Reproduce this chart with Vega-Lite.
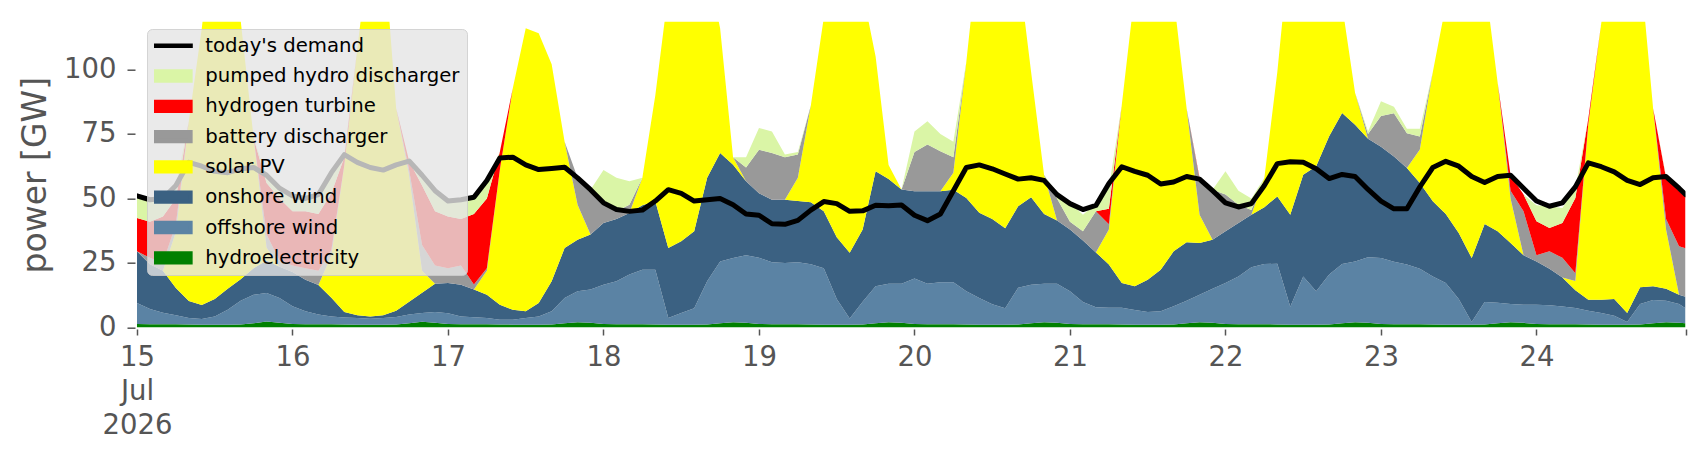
{
  "$schema": "https://vega.github.io/schema/vega-lite/v6.json",
  "width": 1548.5,
  "height": 305.8,
  "autosize": {"type": "none"},
  "padding": {"left": 137, "top": 21.7, "right": 20.5, "bottom": 132.5},
  "background": "white",
  "config": {"font": "DejaVu Sans", "view": {"stroke": null}},
  "data": {
    "values": [
      {"t":"2026-07-15T00:00","hy":1.4,"off":8.1,"on":20,"pv":0,"bat":0,"h2":12.9,"phs":8.4,"dem":51},
      {"t":"2026-07-15T02:00","hy":1.3,"off":5.9,"on":17.3,"pv":0,"bat":2.5,"h2":14,"phs":8.2,"dem":49.5},
      {"t":"2026-07-15T04:00","hy":1.3,"off":4.4,"on":16.3,"pv":0,"bat":3,"h2":18,"phs":7,"dem":50},
      {"t":"2026-07-15T06:00","hy":1.3,"off":3.4,"on":10.6,"pv":21.7,"bat":3,"h2":10,"phs":5,"dem":55},
      {"t":"2026-07-15T08:00","hy":1.2,"off":2.5,"on":6.6,"pv":69.7,"bat":0,"h2":0,"phs":0,"dem":64},
      {"t":"2026-07-15T10:00","hy":1.1,"off":2.2,"on":5.4,"pv":107.3,"bat":0,"h2":0,"phs":0,"dem":62.5},
      {"t":"2026-07-15T12:00","hy":1.1,"off":3.2,"on":6.7,"pv":149,"bat":0,"h2":0,"phs":0,"dem":60.5},
      {"t":"2026-07-15T14:00","hy":1.1,"off":5.8,"on":8.1,"pv":150,"bat":0,"h2":0,"phs":0,"dem":60},
      {"t":"2026-07-15T16:00","hy":1.2,"off":9.2,"on":8.3,"pv":100.3,"bat":0,"h2":0,"phs":0,"dem":61.5},
      {"t":"2026-07-15T18:00","hy":1.6,"off":11.1,"on":10.3,"pv":50.4,"bat":0,"h2":0,"phs":0,"dem":62},
      {"t":"2026-07-15T20:00","hy":2.3,"off":11.1,"on":12.6,"pv":5,"bat":5,"h2":20,"phs":3,"dem":59},
      {"t":"2026-07-15T22:00","hy":1.8,"off":9.6,"on":12.1,"pv":0,"bat":2.5,"h2":24,"phs":4,"dem":54},
      {"t":"2026-07-16T00:00","hy":1.4,"off":6.8,"on":13.3,"pv":0,"bat":2.5,"h2":21,"phs":6,"dem":51},
      {"t":"2026-07-16T02:00","hy":1.3,"off":5,"on":12.2,"pv":0,"bat":4.5,"h2":22,"phs":5,"dem":50},
      {"t":"2026-07-16T04:00","hy":1.3,"off":3.7,"on":11.5,"pv":0,"bat":5.5,"h2":22,"phs":7.5,"dem":51.5},
      {"t":"2026-07-16T06:00","hy":1.3,"off":3,"on":7.2,"pv":16.5,"bat":2,"h2":22,"phs":8,"dem":60},
      {"t":"2026-07-16T08:00","hy":1.2,"off":2.7,"on":2.1,"pv":57,"bat":0,"h2":3,"phs":1,"dem":67},
      {"t":"2026-07-16T10:00","hy":1.1,"off":2.6,"on":1,"pv":103.3,"bat":0,"h2":0,"phs":0,"dem":64},
      {"t":"2026-07-16T12:00","hy":1.1,"off":2.3,"on":0.9,"pv":145.7,"bat":0,"h2":0,"phs":0,"dem":62},
      {"t":"2026-07-16T14:00","hy":1.1,"off":2.6,"on":1,"pv":145.3,"bat":0,"h2":0,"phs":0,"dem":61},
      {"t":"2026-07-16T16:00","hy":1.2,"off":2.9,"on":2.4,"pv":78.5,"bat":0,"h2":0,"phs":0,"dem":63},
      {"t":"2026-07-16T18:00","hy":1.6,"off":3.4,"on":5,"pv":49,"bat":2,"h2":3.5,"phs":0,"dem":64.5},
      {"t":"2026-07-16T20:00","hy":2.2,"off":3.4,"on":7.9,"pv":8.5,"bat":10,"h2":23,"phs":4,"dem":59},
      {"t":"2026-07-16T22:00","hy":1.8,"off":4.2,"on":11,"pv":0,"bat":7,"h2":21,"phs":8,"dem":53},
      {"t":"2026-07-17T00:00","hy":1.4,"off":4.1,"on":11.7,"pv":0,"bat":5.8,"h2":20,"phs":6.5,"dem":49},
      {"t":"2026-07-17T02:00","hy":1.3,"off":3,"on":12.3,"pv":0,"bat":7.4,"h2":18,"phs":7,"dem":49.5},
      {"t":"2026-07-17T04:00","hy":1.3,"off":2.7,"on":10.7,"pv":0,"bat":2,"h2":27.3,"phs":6.5,"dem":50.5},
      {"t":"2026-07-17T06:00","hy":1.3,"off":2.4,"on":9,"pv":9.3,"bat":1,"h2":27,"phs":7,"dem":57},
      {"t":"2026-07-17T08:00","hy":1.2,"off":1.8,"on":5.8,"pv":52.2,"bat":0,"h2":7,"phs":0,"dem":65.7},
      {"t":"2026-07-17T10:00","hy":1.1,"off":1.9,"on":3.9,"pv":85.8,"bat":0,"h2":0,"phs":0,"dem":66},
      {"t":"2026-07-17T12:00","hy":1.1,"off":2.6,"on":2.6,"pv":109.7,"bat":0,"h2":0,"phs":0,"dem":63},
      {"t":"2026-07-17T14:00","hy":1.1,"off":3.2,"on":5.2,"pv":104.5,"bat":0,"h2":0,"phs":0,"dem":61.2},
      {"t":"2026-07-17T16:00","hy":1.2,"off":5.1,"on":11.6,"pv":84.1,"bat":0,"h2":0,"phs":0,"dem":61.6},
      {"t":"2026-07-17T18:00","hy":1.6,"off":9.8,"on":19.4,"pv":41.2,"bat":0,"h2":0,"phs":0,"dem":62.1},
      {"t":"2026-07-17T20:00","hy":2,"off":12,"on":20,"pv":13.6,"bat":10.4,"h2":0,"phs":0,"dem":58},
      {"t":"2026-07-17T22:00","hy":1.8,"off":12.9,"on":21.3,"pv":0,"bat":16.8,"h2":0,"phs":0.6,"dem":53.4},
      {"t":"2026-07-18T00:00","hy":1.4,"off":15.2,"on":23.9,"pv":0,"bat":7.1,"h2":0,"phs":13.4,"dem":48.3},
      {"t":"2026-07-18T02:00","hy":1.3,"off":16.6,"on":24.1,"pv":0,"bat":3,"h2":0,"phs":13,"dem":45.7},
      {"t":"2026-07-18T04:00","hy":1.3,"off":19.2,"on":23.9,"pv":0,"bat":3.2,"h2":0,"phs":9.1,"dem":45},
      {"t":"2026-07-18T06:00","hy":1.3,"off":21.1,"on":25,"pv":10.6,"bat":0,"h2":0,"phs":0,"dem":45.5},
      {"t":"2026-07-18T08:00","hy":1.2,"off":21.2,"on":26.5,"pv":41.1,"bat":0,"h2":0,"phs":0,"dem":49},
      {"t":"2026-07-18T10:00","hy":1.1,"off":2.6,"on":27.1,"pv":99.2,"bat":0,"h2":0,"phs":0,"dem":53.4},
      {"t":"2026-07-18T12:00","hy":1.1,"off":4.5,"on":27.8,"pv":126.6,"bat":0,"h2":0,"phs":0,"dem":52},
      {"t":"2026-07-18T14:00","hy":1.1,"off":6.4,"on":29.8,"pv":122.7,"bat":0,"h2":0,"phs":0,"dem":49},
      {"t":"2026-07-18T16:00","hy":1.2,"off":16.7,"on":40.1,"pv":82,"bat":0,"h2":0,"phs":0,"dem":49.5},
      {"t":"2026-07-18T18:00","hy":1.6,"off":24,"on":42,"pv":48.4,"bat":0,"h2":0,"phs":0,"dem":50},
      {"t":"2026-07-18T20:00","hy":2,"off":24.9,"on":36.2,"pv":2.9,"bat":0,"h2":0,"phs":0,"dem":47.6},
      {"t":"2026-07-18T22:00","hy":1.8,"off":26.2,"on":28.7,"pv":0,"bat":5.3,"h2":0,"phs":4,"dem":44},
      {"t":"2026-07-19T00:00","hy":1.4,"off":25.6,"on":25,"pv":0,"bat":16.9,"h2":0,"phs":8.4,"dem":43.5},
      {"t":"2026-07-19T02:00","hy":1.3,"off":24,"on":24.2,"pv":0,"bat":18.1,"h2":0,"phs":8.4,"dem":40.2},
      {"t":"2026-07-19T04:00","hy":1.3,"off":23.7,"on":24.5,"pv":0,"bat":16.5,"h2":0,"phs":1,"dem":40},
      {"t":"2026-07-19T06:00","hy":1.3,"off":24,"on":23.7,"pv":9,"bat":9,"h2":0,"phs":1,"dem":41.5},
      {"t":"2026-07-19T08:00","hy":1.2,"off":23.3,"on":24,"pv":37.5,"bat":0,"h2":0,"phs":0,"dem":45.5},
      {"t":"2026-07-19T10:00","hy":1.1,"off":21.9,"on":22,"pv":75,"bat":0,"h2":0,"phs":0,"dem":48.8},
      {"t":"2026-07-19T12:00","hy":1.1,"off":9.9,"on":24,"pv":125,"bat":0,"h2":0,"phs":0,"dem":48},
      {"t":"2026-07-19T14:00","hy":1.1,"off":2.4,"on":25.5,"pv":141,"bat":0,"h2":0,"phs":0,"dem":45},
      {"t":"2026-07-19T16:00","hy":1.2,"off":8.8,"on":28,"pv":92,"bat":0,"h2":0,"phs":0,"dem":45.2},
      {"t":"2026-07-19T18:00","hy":1.6,"off":14.4,"on":44.5,"pv":44.5,"bat":0,"h2":0,"phs":0,"dem":47.4},
      {"t":"2026-07-19T20:00","hy":2,"off":15,"on":40.5,"pv":5.5,"bat":0,"h2":0,"phs":0,"dem":47.2},
      {"t":"2026-07-19T22:00","hy":1.8,"off":15.2,"on":36.5,"pv":0,"bat":0,"h2":0,"phs":0,"dem":47.5},
      {"t":"2026-07-20T00:00","hy":1.4,"off":17.6,"on":33.8,"pv":0,"bat":15.2,"h2":0,"phs":8,"dem":43.5},
      {"t":"2026-07-20T02:00","hy":1.3,"off":15.7,"on":35.8,"pv":0,"bat":18.1,"h2":0,"phs":9,"dem":41.4},
      {"t":"2026-07-20T04:00","hy":1.3,"off":16.2,"on":35.3,"pv":0,"bat":15.5,"h2":0,"phs":6.7,"dem":44},
      {"t":"2026-07-20T06:00","hy":1.3,"off":16.2,"on":35.9,"pv":6.6,"bat":6,"h2":0,"phs":6,"dem":53},
      {"t":"2026-07-20T08:00","hy":1.2,"off":12.8,"on":36.2,"pv":52.8,"bat":0,"h2":0,"phs":0,"dem":62},
      {"t":"2026-07-20T10:00","hy":1.1,"off":10.3,"on":33.1,"pv":105.5,"bat":0,"h2":0,"phs":0,"dem":63},
      {"t":"2026-07-20T12:00","hy":1.1,"off":7.9,"on":33,"pv":123,"bat":0,"h2":0,"phs":0,"dem":61.5},
      {"t":"2026-07-20T14:00","hy":1.1,"off":6.4,"on":31,"pv":121.5,"bat":0,"h2":0,"phs":0,"dem":59.5},
      {"t":"2026-07-20T16:00","hy":1.2,"off":14.2,"on":31.6,"pv":93,"bat":0,"h2":0,"phs":0,"dem":57.5},
      {"t":"2026-07-20T18:00","hy":1.6,"off":15,"on":33.9,"pv":48.5,"bat":0,"h2":0,"phs":0,"dem":58},
      {"t":"2026-07-20T20:00","hy":2,"off":15,"on":27,"pv":15.2,"bat":0,"h2":0,"phs":0,"dem":57},
      {"t":"2026-07-20T22:00","hy":1.8,"off":15.2,"on":24.5,"pv":0,"bat":8.5,"h2":0,"phs":2,"dem":51.5},
      {"t":"2026-07-21T00:00","hy":1.4,"off":12.6,"on":24,"pv":0,"bat":3,"h2":0,"phs":7.3,"dem":48},
      {"t":"2026-07-21T02:00","hy":1.3,"off":8.6,"on":23.8,"pv":0,"bat":3.6,"h2":0,"phs":6.4,"dem":45.7},
      {"t":"2026-07-21T04:00","hy":1.3,"off":6.5,"on":21.3,"pv":0,"bat":15.9,"h2":0,"phs":3,"dem":47.3},
      {"t":"2026-07-21T06:00","hy":1.3,"off":6.4,"on":16.7,"pv":13.6,"bat":2,"h2":6,"phs":8,"dem":55.8},
      {"t":"2026-07-21T08:00","hy":1.2,"off":6.5,"on":9.5,"pv":69.2,"bat":0,"h2":0,"phs":0,"dem":62.3},
      {"t":"2026-07-21T10:00","hy":1.1,"off":5.7,"on":9.2,"pv":114,"bat":0,"h2":0,"phs":0,"dem":60.5},
      {"t":"2026-07-21T12:00","hy":1.1,"off":4.9,"on":12.5,"pv":146.5,"bat":0,"h2":0,"phs":0,"dem":59},
      {"t":"2026-07-21T14:00","hy":1.1,"off":5.2,"on":16.1,"pv":142.6,"bat":0,"h2":0,"phs":0,"dem":55.6},
      {"t":"2026-07-21T16:00","hy":1.2,"off":7,"on":21.3,"pv":98.5,"bat":0,"h2":0,"phs":0,"dem":56.4},
      {"t":"2026-07-21T18:00","hy":1.6,"off":8.8,"on":22.6,"pv":52,"bat":0,"h2":0,"phs":0,"dem":58.5},
      {"t":"2026-07-21T20:00","hy":2,"off":10.7,"on":20,"pv":11,"bat":13.8,"h2":0.5,"phs":0,"dem":57.5},
      {"t":"2026-07-21T22:00","hy":1.8,"off":13.2,"on":19,"pv":0,"bat":19.4,"h2":0,"phs":0,"dem":53},
      {"t":"2026-07-22T00:00","hy":1.4,"off":15.8,"on":20.1,"pv":0,"bat":14.2,"h2":0,"phs":9,"dem":48.3},
      {"t":"2026-07-22T02:00","hy":1.3,"off":18.5,"on":20.7,"pv":0,"bat":7.1,"h2":0,"phs":5.4,"dem":46.7},
      {"t":"2026-07-22T04:00","hy":1.3,"off":22,"on":20.4,"pv":0,"bat":1.8,"h2":0,"phs":4.5,"dem":48},
      {"t":"2026-07-22T06:00","hy":1.3,"off":23.3,"on":22,"pv":11.4,"bat":0,"h2":0,"phs":0,"dem":55},
      {"t":"2026-07-22T08:00","hy":1.2,"off":23.5,"on":26.1,"pv":48.2,"bat":0,"h2":0,"phs":0,"dem":63.5},
      {"t":"2026-07-22T10:00","hy":1.1,"off":6.9,"on":35.7,"pv":106.3,"bat":0,"h2":0,"phs":0,"dem":64.2},
      {"t":"2026-07-22T12:00","hy":1.1,"off":18.7,"on":39.4,"pv":105.8,"bat":0,"h2":0,"phs":0,"dem":64},
      {"t":"2026-07-22T14:00","hy":1.1,"off":12.9,"on":48.5,"pv":102.5,"bat":0,"h2":0,"phs":0,"dem":61.5},
      {"t":"2026-07-22T16:00","hy":1.2,"off":19.3,"on":53.6,"pv":75.9,"bat":0,"h2":0,"phs":0,"dem":57.7},
      {"t":"2026-07-22T18:00","hy":1.6,"off":23,"on":58.5,"pv":41.9,"bat":0,"h2":0,"phs":0,"dem":59.3},
      {"t":"2026-07-22T20:00","hy":2,"off":23.6,"on":53,"pv":12.4,"bat":0,"h2":0,"phs":0,"dem":58.5},
      {"t":"2026-07-22T22:00","hy":1.8,"off":25.4,"on":45.9,"pv":0,"bat":1.9,"h2":0,"phs":1,"dem":53.5},
      {"t":"2026-07-23T00:00","hy":1.4,"off":25.5,"on":43.1,"pv":0,"bat":12,"h2":0,"phs":5.7,"dem":49},
      {"t":"2026-07-23T02:00","hy":1.3,"off":24.2,"on":40.8,"pv":0,"bat":16.7,"h2":0,"phs":2.5,"dem":46},
      {"t":"2026-07-23T04:00","hy":1.3,"off":23.1,"on":37.4,"pv":0,"bat":13.5,"h2":0,"phs":1.7,"dem":46},
      {"t":"2026-07-23T06:00","hy":1.3,"off":21.5,"on":33.2,"pv":13,"bat":5,"h2":0,"phs":3,"dem":54.5},
      {"t":"2026-07-23T08:00","hy":1.2,"off":18.6,"on":29.1,"pv":50.1,"bat":0,"h2":0,"phs":0,"dem":62},
      {"t":"2026-07-23T10:00","hy":1.1,"off":16.1,"on":26.8,"pv":81,"bat":0,"h2":0,"phs":0,"dem":64.4},
      {"t":"2026-07-23T12:00","hy":1.1,"off":9.9,"on":25.6,"pv":128.4,"bat":0,"h2":0,"phs":0,"dem":62.5},
      {"t":"2026-07-23T14:00","hy":1.1,"off":1,"on":24.8,"pv":143.1,"bat":0,"h2":0,"phs":0,"dem":58.5},
      {"t":"2026-07-23T16:00","hy":1.2,"off":8.7,"on":30.2,"pv":94.9,"bat":0,"h2":0,"phs":0,"dem":56.2},
      {"t":"2026-07-23T18:00","hy":1.6,"off":8,"on":27.7,"pv":57.7,"bat":0,"h2":0,"phs":0,"dem":58.5},
      {"t":"2026-07-23T20:00","hy":2,"off":7.1,"on":23.6,"pv":17.3,"bat":3,"h2":6,"phs":0,"dem":59},
      {"t":"2026-07-23T22:00","hy":1.8,"off":7,"on":19.2,"pv":0,"bat":17,"h2":6.5,"phs":0,"dem":54},
      {"t":"2026-07-24T00:00","hy":1.4,"off":7.4,"on":16.8,"pv":0,"bat":2.4,"h2":13.2,"phs":6.2,"dem":49},
      {"t":"2026-07-24T02:00","hy":1.3,"off":7.3,"on":14.2,"pv":0,"bat":6.7,"h2":9.1,"phs":8.4,"dem":47},
      {"t":"2026-07-24T04:00","hy":1.3,"off":6.8,"on":11.3,"pv":0,"bat":7.6,"h2":13.5,"phs":5.8,"dem":48.3},
      {"t":"2026-07-24T06:00","hy":1.3,"off":6.3,"on":6.8,"pv":3.6,"bat":3,"h2":29.2,"phs":3.8,"dem":54.5},
      {"t":"2026-07-24T08:00","hy":1.2,"off":5.3,"on":4.3,"pv":68.2,"bat":0,"h2":2,"phs":0,"dem":63.8},
      {"t":"2026-07-24T10:00","hy":1.1,"off":4.5,"on":5.2,"pv":107.2,"bat":0,"h2":0,"phs":0,"dem":62.3},
      {"t":"2026-07-24T12:00","hy":1.1,"off":3.5,"on":6.4,"pv":139,"bat":0,"h2":0,"phs":0,"dem":60.3},
      {"t":"2026-07-24T14:00","hy":1.1,"off":1,"on":3.5,"pv":149.4,"bat":0,"h2":0,"phs":0,"dem":57},
      {"t":"2026-07-24T16:00","hy":1.2,"off":7.9,"on":6.5,"pv":124.4,"bat":0,"h2":0,"phs":0,"dem":55.4},
      {"t":"2026-07-24T18:00","hy":1.6,"off":9.1,"on":5.3,"pv":69,"bat":0,"h2":0,"phs":0,"dem":58},
      {"t":"2026-07-24T20:00","hy":2,"off":8.4,"on":4.6,"pv":23,"bat":4,"h2":16,"phs":0.5,"dem":58.5},
      {"t":"2026-07-24T22:00","hy":1.8,"off":7.3,"on":3.6,"pv":0,"bat":18.8,"h2":21.3,"phs":1.2,"dem":54},
      {"t":"2026-07-24T23:00","hy":1.6,"off":5.9,"on":4.4,"pv":0,"bat":18.8,"h2":20,"phs":0.8,"dem":51.5}
    ]
  },
  "encoding": {
    "x": {
      "field": "t",
      "type": "temporal",
      "scale": {
        "domain": [
          {"year": 2026, "month": 7, "date": 15},
          {"year": 2026, "month": 7, "date": 24, "hours": 23}
        ],
        "nice": false
      },
      "axis": {
        "title": null,
        "values": [
          {"year": 2026, "month": 7, "date": 15},
          {"year": 2026, "month": 7, "date": 16},
          {"year": 2026, "month": 7, "date": 17},
          {"year": 2026, "month": 7, "date": 18},
          {"year": 2026, "month": 7, "date": 19},
          {"year": 2026, "month": 7, "date": 20},
          {"year": 2026, "month": 7, "date": 21},
          {"year": 2026, "month": 7, "date": 22},
          {"year": 2026, "month": 7, "date": 23},
          {"year": 2026, "month": 7, "date": 24},
          {"year": 2026, "month": 7, "date": 24, "hours": 23}
        ],
        "labelExpr": "hours(datum.value) == 23 ? '' : (date(datum.value) == 15 ? ['15', 'Jul', '2026'] : timeFormat(datum.value, '%d'))",
        "labelFontSize": 27.5,
        "labelColor": "#555555",
        "labelLineHeight": 34,
        "labelPadding": 8.5,
        "labelAngle": 0,
        "labelAlign": "center",
        "labelFlush": false,
        "labelOverlap": false,
        "labelBound": false,
        "tickColor": "#555555",
        "tickSize": 6,
        "tickWidth": 1.5,
        "offset": 1.5,
        "domain": false,
        "grid": false
      }
    }
  },
  "layer": [
    {
      "transform": [
        {"fold": ["hy", "off", "on", "pv", "bat", "h2", "phs"], "as": ["source", "gw"]},
        {"calculate": "indexof(['hy', 'off', 'on', 'pv', 'bat', 'h2', 'phs'], datum.source)", "as": "k"}
      ],
      "mark": {"type": "area", "clip": true, "interpolate": "linear"},
      "encoding": {
        "y": {
          "field": "gw",
          "type": "quantitative",
          "stack": "zero",
          "scale": {"domain": [0, 118.5], "nice": false},
          "axis": {
            "title": "power [GW]",
            "values": [0, 25, 50, 75, 100],
            "labelFontSize": 27.5,
            "labelColor": "#555555",
            "labelPadding": 11,
            "tickColor": "#555555",
            "tickSize": 8,
            "tickWidth": 1.5,
            "offset": 2,
            "domain": false,
            "grid": false,
            "titleFontSize": 33,
            "titleFontWeight": "normal",
            "titleColor": "#555555",
            "titleAngle": 270,
            "titleAlign": "center",
            "titleBaseline": "alphabetic",
            "titleX": -90,
            "titleY": 153
          }
        },
        "color": {
          "field": "source",
          "type": "nominal",
          "scale": {
            "domain": ["dem", "phs", "h2", "bat", "pv", "on", "off", "hy"],
            "range": ["#000000", "#daf5a6", "#ff0000", "#999999", "#ffff00", "#3b6182", "#5b83a4", "#008000"]
          },
          "legend": {
            "title": null,
            "orient": "none",
            "legendX": 10,
            "legendY": 7.3,
            "fillColor": "rgba(229,229,229,0.8)",
            "strokeColor": "rgba(204,204,204,0.8)",
            "cornerRadius": 5,
            "padding": 7,
            "labelFontSize": 19.7,
            "labelColor": "#000000",
            "labelLimit": 400,
            "labelOffset": 10,
            "symbolSize": 1521,
            "symbolStrokeWidth": 4.5,
            "symbolOffset": -2.7,
            "clipHeight": 19.4,
            "rowPadding": 9.3,
            "labelExpr": "{'dem': \"today's demand\", 'phs': 'pumped hydro discharger', 'h2': 'hydrogen turbine', 'bat': 'battery discharger', 'pv': 'solar PV', 'on': 'onshore wind', 'off': 'offshore wind', 'hy': 'hydroelectricity'}[datum.value]",
            "encode": {
              "symbols": {
                "update": {
                  "shape": [
                    {"test": "datum.value === 'dem'", "value": "M-1,0H1"},
                    {"value": "M-0.877,-0.226H0.877V0.226H-0.877Z"}
                  ],
                  "strokeJoin": {"value": "miter"}
                }
              }
            }
          }
        },
        "order": {"field": "k", "type": "quantitative"}
      }
    },
    {
      "mark": {"type": "line", "clip": true, "strokeWidth": 5, "strokeJoin": "round", "strokeCap": "round"},
      "encoding": {
        "y": {
          "field": "dem",
          "type": "quantitative",
          "axis": {
            "title": "power [GW]",
            "values": [0, 25, 50, 75, 100],
            "labelFontSize": 27.5,
            "labelColor": "#555555",
            "labelPadding": 11,
            "tickColor": "#555555",
            "tickSize": 8,
            "tickWidth": 1.5,
            "offset": 2,
            "domain": false,
            "grid": false,
            "titleFontSize": 33,
            "titleFontWeight": "normal",
            "titleColor": "#555555",
            "titleAngle": 270,
            "titleAlign": "center",
            "titleBaseline": "alphabetic",
            "titleX": -90,
            "titleY": 153
          }
        },
        "color": {"datum": "dem"}
      }
    }
  ]
}
